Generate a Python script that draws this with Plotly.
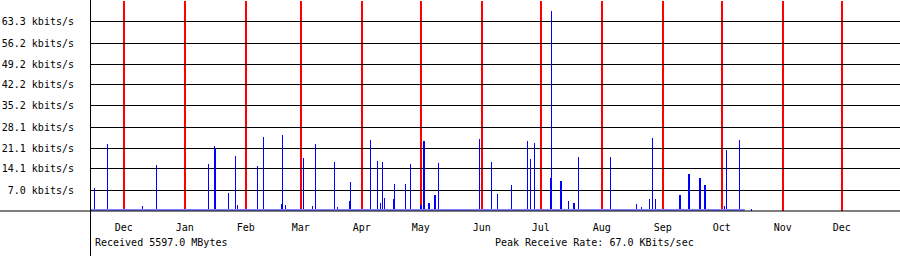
import plotly.graph_objects as go

# ---------------- data ----------------
spike_times = [
    "2009-11-16 00:00", "2009-11-22 16:00", "2009-12-10 11:00", "2009-12-17 14:00",
    "2010-01-13 05:00", "2010-01-16 06:00", "2010-01-16 18:00", "2010-01-23 09:00",
    "2010-01-26 22:00", "2010-01-27 22:00",
    "2010-02-06 22:00", "2010-02-09 23:00", "2010-02-19 02:00", "2010-02-19 14:00",
    "2010-02-21 02:00",
    "2010-03-02 08:00", "2010-03-07 00:00", "2010-03-08 10:00", "2010-03-18 02:00",
    "2010-03-19 14:00", "2010-03-25 17:00", "2010-03-26 05:00",
    "2010-04-05 09:00", "2010-04-08 22:00", "2010-04-10 11:00", "2010-04-11 11:00",
    "2010-04-12 12:00", "2010-04-17 02:00", "2010-04-17 14:00", "2010-04-23 04:00",
    "2010-04-25 17:00", "2010-04-30 18:00",
    "2010-05-01 12:00", "2010-05-02 16:00", "2010-05-05 05:00", "2010-05-08 06:00",
    "2010-05-09 19:00", "2010-05-30 19:00",
    "2010-06-05 21:00", "2010-06-08 22:00", "2010-06-16 01:00", "2010-06-24 05:00",
    "2010-06-25 17:00", "2010-06-27 18:00",
    "2010-07-05 22:00", "2010-07-06 06:00", "2010-07-11 07:00", "2010-07-14 22:00",
    "2010-07-17 22:00", "2010-07-19 23:00",
    "2010-08-05 09:00", "2010-08-18 14:00", "2010-08-21 02:00", "2010-08-25 05:00",
    "2010-08-26 17:00", "2010-08-28 06:00",
    "2010-09-09 19:00", "2010-09-14 09:00", "2010-09-19 23:00", "2010-09-22 12:00",
    "2010-10-02 08:00", "2010-10-03 08:00", "2010-10-09 23:00", "2010-10-16 01:00",
]
spike_kbits = [
    7.6, 22.3, 1.7, 15.4,
    15.7, 21.8, 20.7, 6.0,
    18.4, 1.9,
    15.1, 24.8, 2.5, 25.3,
    2.0,
    17.7, 1.8, 22.4, 16.4,
    1.2, 3.3, 9.7,
    23.7, 16.7, 2.8, 16.4,
    4.2, 3.9, 9.0, 9.0,
    15.7, 2.0,
    2.0, 23.4, 2.8, 5.3,
    16.0, 24.1,
    16.4, 5.7, 8.7, 23.4,
    17.4, 22.8,
    11.1, 67.0, 10.0, 3.2,
    2.8, 18.1,
    18.1, 2.5, 1.5, 3.9,
    24.4, 3.9,
    5.3, 12.4, 10.9, 8.7,
    1.8, 20.4, 23.8, 0.6,
]

floor_times = ["2009-11-14 10:00", "2010-10-12 18:00"]
floor_kbits = [0.65, 0.65]

y_tick_vals = [7.0, 14.1, 21.1, 28.1, 35.2, 42.2, 49.2, 56.2, 63.3]
y_tick_text = [f"{v:.1f} kbits/s" for v in y_tick_vals]

month_starts = ["2009-12-01", "2010-01-01", "2010-02-01", "2010-03-01", "2010-04-01",
                "2010-05-01", "2010-06-01", "2010-07-01", "2010-08-01", "2010-09-01",
                "2010-10-01", "2010-11-01", "2010-12-01"]
month_labels = ["Dec", "Jan", "Feb", "Mar", "Apr", "May", "Jun", "Jul", "Aug", "Sep",
                "Oct", "Nov", "Dec"]

x_range = ["2009-11-14 09:00", "2010-12-30 15:00"]
y_max = 70.33

received_mbytes = 5597.0
peak_kbits = 67.0

# ---------------- figure ----------------
W, H = 900, 256
ML, MR, MT, MB = 91, 0, 1, 45
PW, PH = W - ML - MR, H - MT - MB

FONT = dict(family="DejaVu Sans Mono, Liberation Mono, monospace", size=10, color="black")

fig = go.Figure()

fig.add_trace(go.Scatter(
    x=floor_times, y=floor_kbits, mode="lines", line=dict(width=0),
    fill="tozeroy", fillcolor="#8080ff", hoverinfo="skip", showlegend=False,
))

# very thin bars: plotly snaps them out to whole pixels, giving 1px-wide spikes
fig.add_trace(go.Bar(
    x=spike_times, y=spike_kbits,
    width=[0.04 * 86400000] * len(spike_times),
    marker=dict(color="#0000ff", line=dict(width=0)),
    showlegend=False,
))

fig.update_layout(
    width=W, height=H,
    margin=dict(l=ML, r=MR, t=MT, b=MB, pad=0),
    paper_bgcolor="white", plot_bgcolor="white",
    font=FONT,
    bargap=0,
    xaxis=dict(
        type="date", range=x_range, fixedrange=True,
        tickmode="array", tickvals=month_starts, ticktext=month_labels,
        showgrid=True, gridcolor="#ff0000", gridwidth=2,
        zeroline=False, showline=False, ticks="",
        ticklabelstandoff=9, tickfont=FONT,
    ),
    yaxis=dict(
        range=[0, y_max], fixedrange=True,
        tickmode="array", tickvals=y_tick_vals, ticktext=y_tick_text,
        showgrid=True, gridcolor="black", gridwidth=1,
        zeroline=False, showline=False, ticks="",
        ticklabelstandoff=16, tickfont=FONT,
    ),
    shapes=[
        dict(type="line", xref="paper", yref="paper",
             x0=-ML / PW, x1=1, y0=0, y1=0,
             line=dict(color="black", width=1), layer="above"),
        dict(type="line", xref="paper", yref="paper",
             x0=-0.5 / PW, x1=-0.5 / PW, y0=-MB / PH, y1=1 + MT / PH,
             line=dict(color="black", width=1), layer="above"),
    ],
    annotations=[
        dict(text=f"Received {received_mbytes:.1f} MBytes", xref="paper", yref="paper",
             x=2 / PW, y=-32 / PH, xanchor="left", yanchor="middle",
             showarrow=False, font=FONT),
        dict(text=f"Peak Receive Rate: {peak_kbits:.1f} KBits/sec", xref="paper", yref="paper",
             x=402 / PW, y=-32 / PH, xanchor="left", yanchor="middle",
             showarrow=False, font=FONT),
    ],
)

fig.write_html("out.html")
